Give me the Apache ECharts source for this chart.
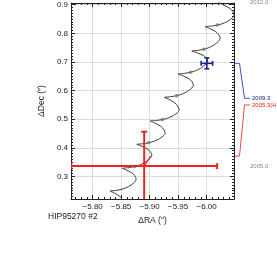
<!DOCTYPE html>
<html>
<head>
<meta charset="utf-8">
<script src="https://cdn.jsdelivr.net/npm/echarts@6/dist/echarts.min.js"></script>
<style>html,body{margin:0;padding:0;background:#fff}#c{width:277px;height:262px}</style>
</head>
<body>
<div id="c"></div>
<script>
// ---- data ----
const pathRA = [
-5.8535,-5.8514,-5.8468,-5.8412,-5.8360,
-5.8307,-5.8404,-5.8498,-5.8589,-5.8672,-5.8735,-5.8763,-5.8740,-5.8691,-5.8630,-5.8574,
-5.8518,-5.8626,-5.8737,-5.8840,-5.8935,-5.9007,-5.9039,-5.9015,-5.8962,-5.8897,-5.8836,
-5.8775,-5.8879,-5.8984,-5.9082,-5.9172,-5.9242,-5.9272,-5.9248,-5.9196,-5.9130,-5.9069,
-5.9009,-5.9116,-5.9223,-5.9325,-5.9416,-5.9488,-5.9518,-5.9495,-5.9442,-5.9379,-5.9319,
-5.9260,-5.9367,-5.9474,-5.9575,-5.9667,-5.9739,-5.9768,-5.9744,-5.9691,-5.9623,-5.9561,
-5.9500,-5.9609,-5.9718,-5.9821,-5.9914,-5.9986,-6.0018,-5.9993,-5.9937,-5.9868,-5.9804,
-5.9740,-5.9844,-5.9949,-6.0047,-6.0137,-6.0207,-6.0237,-6.0213,-6.0161,-6.0095,-6.0034,
-5.9974,-6.0081,-6.0188,-6.0289,-6.0381,-6.0453,-6.0482,-6.0458,-6.0403,-6.0335,-6.0274,-6.0207,-6.0307
];
const pathDec = [
0.2084,0.2205,0.2315,0.2381,0.2441,
0.2486,0.2507,0.2545,0.2605,0.2696,0.2804,0.2906,0.3018,0.3119,0.3182,0.3238,
0.3280,0.3304,0.3346,0.3409,0.3512,0.3633,0.3745,0.3857,0.3958,0.4021,0.4077,
0.4119,0.4140,0.4175,0.4231,0.4316,0.4420,0.4514,0.4640,0.4752,0.4825,0.4888,
0.4934,0.4953,0.4986,0.5042,0.5126,0.5227,0.5318,0.5451,0.5570,0.5647,0.5713,
0.5762,0.5783,0.5822,0.5881,0.5977,0.6087,0.6192,0.6308,0.6413,0.6476,0.6535,
0.6577,0.6600,0.6640,0.6703,0.6804,0.6923,0.7032,0.7136,0.7231,0.7290,0.7343,
0.7381,0.7402,0.7444,0.7507,0.7603,0.7719,0.7825,0.7948,0.8056,0.8126,0.8186,
0.8231,0.8252,0.8287,0.8346,0.8435,0.8542,0.8640,0.8766,0.8878,0.8951,0.9014,0.9094,0.9115
];
const yearRA  = [-5.8737,-5.8984,-5.9223,-5.9474,-5.9718,-5.9949,-6.0188];
const yearDec = [ 0.3346, 0.4175, 0.4986, 0.5822, 0.6640, 0.7444, 0.8287];

const obsLabels = ['2005.3(H)', '2009.3'];
const obsRA     = [-5.8904, -6.0004];
const obsDec    = [ 0.3360,  0.6951];
const obsErrRA  = [ 0.1280,  0.0100];
const obsErrDec = [ 0.1200,  0.0190];
const modelRA   = [-5.9018, -6.0004];
const modelDec  = [ 0.3710,  0.6951];
const obsColors = ['#ec2424', '#1c2290'];
const leadColors = ['#f04848', '#4050c8'];

const xTickValues = [-5.80, -5.85, -5.90, -5.95, -6.00];
const yTickValues = [0.3, 0.4, 0.5, 0.6, 0.7, 0.8, 0.9];
const epochLabels = ['2012.0', '2005.0'];

const X_MIN = -6.048, X_MAX = -5.762;
const Y_MIN = 0.221, Y_MAX = 0.906;

// minor tick positions (every 0.01)
const xMinor = [], yMinor = [];
for (let i = -604; i <= -577; i++) xMinor.push(+(i / 100).toFixed(2));
for (let i = 23; i <= 90; i++) yMinor.push(+(i / 100).toFixed(2));

const FONT = 'Liberation Sans';
const AX = '#222';
const chart = echarts.init(document.getElementById('c'), null, {renderer: 'canvas'});

function xAx(pos, opts) {
  return Object.assign({
    type: 'value', position: pos, inverse: true, min: X_MIN, max: X_MAX,
    axisLine: {show: true, onZero: false, lineStyle: {color: AX, width: 1}},
    axisTick: {show: true, inside: true, length: 4, customValues: xTickValues, lineStyle: {color: AX}},
    axisLabel: {show: false},
    splitLine: {show: false}
  }, opts);
}
function yAx(pos, opts) {
  return Object.assign({
    type: 'value', position: pos, min: Y_MIN, max: Y_MAX,
    axisLine: {show: true, onZero: false, lineStyle: {color: AX, width: 1}},
    axisTick: {show: true, inside: true, length: 4, customValues: yTickValues, lineStyle: {color: AX}},
    axisLabel: {show: false},
    splitLine: {show: false}
  }, opts);
}

const option = {
  animation: false,
  backgroundColor: '#fff',
  grid: {left: 71, top: 3, width: 163, height: 196, outerBoundsMode: 'none', containLabel: false},
  xAxis: [
    xAx('bottom', {
      axisLabel: {show: true, customValues: xTickValues, fontFamily: FONT, fontSize: 8, color: AX, margin: 4,
        formatter: v => v.toFixed(2).replace('-', '\u2212')},
      splitLine: {show: true, lineStyle: {color: '#dcdcdc', width: 1}},
      name: '\u0394RA (\u2033)', nameLocation: 'middle', nameGap: 13,
      nameTextStyle: {fontFamily: FONT, fontSize: 8.5, color: AX}
    }),
    xAx('top', {}),
    xAx('bottom', {axisLine: {show: false}, axisTick: {show: true, inside: true, length: 2, customValues: xMinor, lineStyle: {color: AX}}}),
    xAx('top', {axisLine: {show: false}, axisTick: {show: true, inside: true, length: 2, customValues: xMinor, lineStyle: {color: AX}}})
  ],
  yAxis: [
    yAx('left', {
      axisLabel: {show: true, customValues: yTickValues, fontFamily: FONT, fontSize: 8, color: AX, margin: 3,
        formatter: v => v.toFixed(1)},
      splitLine: {show: true, lineStyle: {color: '#dcdcdc', width: 1}},
      name: '\u0394Dec (\u2033)', nameLocation: 'middle', nameGap: 18, nameRotate: 90,
      nameTextStyle: {fontFamily: FONT, fontSize: 8.5, color: AX}
    }),
    yAx('right', {}),
    yAx('left', {axisLine: {show: false}, axisTick: {show: true, inside: true, length: 2, customValues: yMinor, lineStyle: {color: AX}}}),
    yAx('right', {axisLine: {show: false}, axisTick: {show: true, inside: true, length: 2, customValues: yMinor, lineStyle: {color: AX}}})
  ],
  series: [
    {
      type: 'line', xAxisIndex: 0, yAxisIndex: 0,
      data: pathRA.map((r, i) => [r, pathDec[i]]),
      showSymbol: false, smooth: 0.25, clip: true,
      lineStyle: {color: '#3a3a3a', width: 1}, z: 3
    },
    {
      type: 'scatter', xAxisIndex: 0, yAxisIndex: 0,
      data: yearRA.map((r, i) => [r, yearDec[i]]),
      symbolSize: 3.5, itemStyle: {color: '#777'}, z: 4
    },
    {
      type: 'line', xAxisIndex: 0, yAxisIndex: 0,
      data: [[obsRA[0], obsDec[0]], [modelRA[0], modelDec[0]]],
      showSymbol: false, lineStyle: {color: obsColors[0], width: 1.2}, z: 5
    },
    {
      type: 'custom', xAxisIndex: 0, yAxisIndex: 0, clip: true, z: 6,
      data: obsRA.map((r, i) => ({value: [r, obsDec[i], obsErrRA[i], obsErrDec[i]], itemStyle: {color: obsColors[i]}})),
      renderItem: function (params, api) {
        const x = api.value(0), y = api.value(1), ex = api.value(2), ey = api.value(3);
        const pl = api.coord([x - ex, y]), pr = api.coord([x + ex, y]);
        const pt = api.coord([x, y + ey]), pb = api.coord([x, y - ey]);
        const col = api.visual('color');
        const big = params.dataIndex === 0;
        const w = big ? 2 : 1.6, cap = big ? 3 : 2.5;
        const st = {stroke: col, lineWidth: w};
        const ln = (x1, y1, x2, y2) => ({type: 'line', shape: {x1, y1, x2, y2}, style: st});
        return {type: 'group', children: [
          ln(pl[0], pl[1], pr[0], pr[1]),
          ln(pt[0], pt[1], pb[0], pb[1]),
          ln(pl[0], pl[1] - cap, pl[0], pl[1] + cap),
          ln(pr[0], pr[1] - cap, pr[0], pr[1] + cap),
          ln(pt[0] - cap, pt[1], pt[0] + cap, pt[1]),
          ln(pb[0] - cap, pb[1], pb[0] + cap, pb[1])
        ]};
      }
    }
  ]
};
chart.setOption(option);

// right-side annotations
const xr = chart.convertToPixel({xAxisIndex: 0}, X_MIN);
const labelY = [105, 98.3];
const graphics = [];
for (let i = 0; i < obsLabels.length; i++) {
  const y0 = chart.convertToPixel({yAxisIndex: 0}, modelDec[i]);
  graphics.push({
    type: 'polyline', silent: true,
    shape: {points: [[xr, y0], [xr + 5.5, y0], [xr + 10.5, labelY[i]], [xr + 16, labelY[i]]]},
    style: {stroke: leadColors[i], lineWidth: 1, fill: null}
  });
  graphics.push({
    type: 'text', silent: true, x: xr + 18, y: labelY[i],
    style: {text: obsLabels[i], fill: obsColors[i], font: '6px "Liberation Sans"', textVerticalAlign: 'middle'}
  });
}
graphics.push({type: 'text', silent: true, x: 250, y: 2.5,
  style: {text: epochLabels[0], fill: '#888', font: '6px "Liberation Sans"', textVerticalAlign: 'middle'}});
graphics.push({type: 'text', silent: true, x: 250, y: 166.7,
  style: {text: epochLabels[1], fill: '#888', font: '6px "Liberation Sans"', textVerticalAlign: 'middle'}});
graphics.push({type: 'text', silent: true, x: 48, y: 217,
  style: {text: 'HIP95270 #2', fill: AX, font: '8.5px "Liberation Sans"', textVerticalAlign: 'middle'}});
chart.setOption({graphic: graphics});
</script>
</body>
</html>
